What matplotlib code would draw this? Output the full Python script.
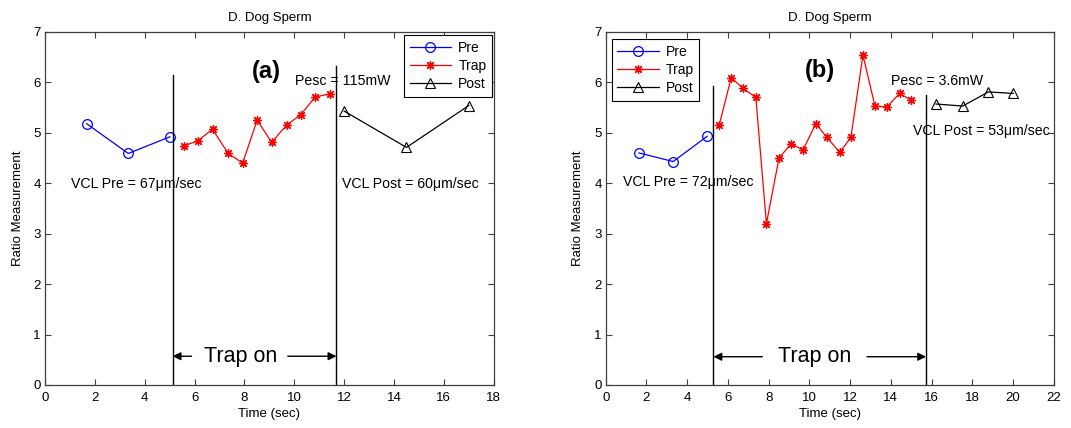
import matplotlib
matplotlib.use("Agg")
import matplotlib.pyplot as plt

plt.rcParams['font.family'] = ['Liberation Sans', 'DejaVu Sans']

# ---- Panel (a) data ----
a_pre_t = [1.67, 3.34, 5.01]
a_pre_r = [5.18, 4.59, 4.92]
a_trap_t = [5.57, 6.13, 6.72, 7.35, 7.93, 8.51, 9.09, 9.69, 10.26, 10.84, 11.43]
a_trap_r = [4.74, 4.84, 5.07, 4.59, 4.40, 5.25, 4.81, 5.15, 5.36, 5.71, 5.77]
a_post_t = [12.0, 14.5, 17.0]
a_post_r = [5.43, 4.71, 5.54]
a_trap_on = 5.12
a_trap_off = 11.69

# ---- Panel (b) data ----
b_pre_t = [1.63, 3.31, 4.98]
b_pre_r = [4.60, 4.43, 4.93]
b_trap_t = [5.57, 6.16, 6.75, 7.37, 7.89, 8.51, 9.10, 9.69, 10.31, 10.86,
            11.49, 12.04, 12.63, 13.22, 13.80, 14.43, 14.98]
b_trap_r = [5.15, 6.09, 5.88, 5.70, 3.20, 4.50, 4.78, 4.66, 5.18, 4.91,
            4.61, 4.91, 6.54, 5.53, 5.51, 5.78, 5.65]
b_post_t = [16.22, 17.53, 18.79, 20.01]
b_post_r = [5.57, 5.53, 5.81, 5.78]
b_trap_on = 5.29
b_trap_off = 15.73

fig = plt.figure(figsize=(10.71, 4.28), dpi=100)
ax1 = fig.add_axes([0.042, 0.1005, 0.419, 0.825])
ax2 = fig.add_axes([0.5656, 0.1005, 0.4183, 0.825])

SPINE = '#404040'


def style_axes(ax, xmax, xticks):
    ax.set_xlim(0, xmax)
    ax.set_ylim(0, 7)
    ax.set_xticks(xticks)
    ax.set_yticks(range(0, 8))
    ax.tick_params(direction='in', top=True, right=True, length=4,
                   width=0.8, color=SPINE, labelsize=9.5)
    ax.tick_params(axis='x', pad=5)
    ax.tick_params(axis='y', pad=3)
    for s in ax.spines.values():
        s.set_color(SPINE)
        s.set_linewidth(0.9)
    ax.set_title('D. Dog Sperm', fontsize=9.5, pad=8)
    ax.set_xlabel('Time (sec)', fontsize=9.5, labelpad=3)
    ax.set_ylabel('Ratio Measurement', fontsize=9.5, labelpad=7)


def draw_series(ax, pre_t, pre_r, trap_t, trap_r, post_t, post_r):
    ax.plot(pre_t, pre_r, color='blue', lw=0.9, marker='o', ms=7,
            mfc='none', mec='blue', mew=0.9, label='Pre')
    ax.plot(trap_t, trap_r, color='red', lw=0.9, marker=(8, 2, 0), ms=6.5,
            mec='red', mew=0.9, label='Trap')
    ax.plot(post_t, post_r, color='black', lw=0.9, marker='^', ms=7,
            mfc='none', mec='black', mew=0.8, label='Post')


def trap_arrows(ax, x_on, x_off, y, left_end, right_start, text_x):
    kw = dict(arrowstyle='-|>', color='black', lw=1.0, mutation_scale=12,
              shrinkA=0, shrinkB=0)
    ax.annotate('', xy=(x_on, y), xytext=(left_end, y), arrowprops=kw)
    ax.annotate('', xy=(x_off, y), xytext=(right_start, y), arrowprops=kw)
    ax.text(text_x, y, 'Trap on', fontsize=15.5, ha='center', va='center')


def add_legend(ax, loc, anchor):
    leg = ax.legend(loc=loc, bbox_to_anchor=anchor, borderaxespad=0,
                    fontsize=10, handlelength=3.0, fancybox=False,
                    edgecolor='black', framealpha=1, labelspacing=0.3,
                    borderpad=0.4, handletextpad=0.5)
    leg.get_frame().set_linewidth(0.8)


# Panel (a)
style_axes(ax1, 18, range(0, 19, 2))
draw_series(ax1, a_pre_t, a_pre_r, a_trap_t, a_trap_r, a_post_t, a_post_r)
ax1.plot([a_trap_on, a_trap_on], [0, 6.14], color='black', lw=1.0)
ax1.plot([a_trap_off, a_trap_off], [0, 6.32], color='black', lw=1.0)
trap_arrows(ax1, a_trap_on, a_trap_off, 0.57, 5.88, 9.74, 7.85)
ax1.text(1.03, 3.99, 'VCL Pre = 67\u03bcm/sec', fontsize=10.2, va='center')
ax1.text(11.9, 3.99, 'VCL Post = 60\u03bcm/sec', fontsize=10.2, va='center')
ax1.text(10.02, 6.02, 'Pesc = 115mW', fontsize=10.2, va='center')
ax1.text(8.89, 6.22, '(a)', fontsize=17, fontweight='bold',
         ha='center', va='center')
add_legend(ax1, 'upper right', (0.996, 0.991))

# Panel (b)
style_axes(ax2, 22, range(0, 23, 2))
draw_series(ax2, b_pre_t, b_pre_r, b_trap_t, b_trap_r, b_post_t, b_post_r)
ax2.plot([b_trap_on, b_trap_on], [0, 5.93], color='black', lw=1.0)
ax2.plot([b_trap_off, b_trap_off], [0, 5.75], color='black', lw=1.0)
trap_arrows(ax2, b_trap_on, b_trap_off, 0.56, 7.69, 12.83, 10.26)
ax2.text(0.86, 4.02, 'VCL Pre = 72\u03bcm/sec', fontsize=10.2, va='center')
ax2.text(15.08, 5.04, 'VCL Post = 53\u03bcm/sec', fontsize=10.2, va='center')
ax2.text(14.02, 6.02, 'Pesc = 3.6mW', fontsize=10.2, va='center')
ax2.text(10.5, 6.24, '(b)', fontsize=17, fontweight='bold',
         ha='center', va='center')
add_legend(ax2, 'upper left', (0.013, 0.979))

fig.savefig('out.png', dpi=100, facecolor='white')
